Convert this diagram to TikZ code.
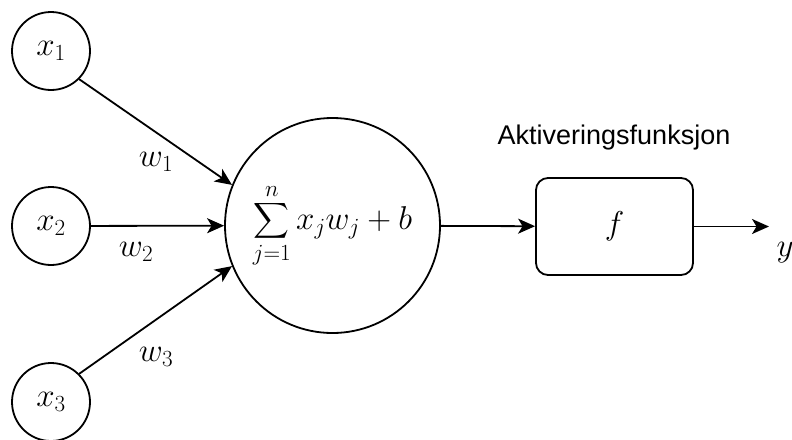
\RequirePackage{fix-cm}
\documentclass[tikz,border=0pt]{standalone}
\usepackage{amsmath}
\usepackage{fontspec}
\newfontfamily\labelfont{Liberation Sans}
\usetikzlibrary{arrows.meta}
\begin{document}
\begin{tikzpicture}[x=1pt,y=-1pt,
  mathfont/.style={font=\fontsize{33}{40}\selectfont},
  conn/.style={line width=1.8pt, -{Stealth[length=17pt,width=15pt,inset=4.5pt]}},
  inp/.style={circle, draw, line width=1.8pt, minimum size=78pt, inner sep=0pt, mathfont},
  sumnode/.style={circle, draw, line width=1.8pt, minimum size=215pt, inner sep=0pt, mathfont},
  fbox/.style={rectangle, rounded corners=12pt, draw, line width=1.8pt, minimum width=157pt, minimum height=97pt, inner sep=0pt, mathfont},
  lbl/.style={inner sep=0pt, mathfont}
]
\useasboundingbox (0,0) rectangle (792,439);
\node[inp] (x1) at (51,51) {$x_1$};
\node[inp] (x2) at (51,226) {$x_2$};
\node[inp] (x3) at (51,402) {$x_3$};
\node[sumnode] (sum) at (332.5,225.5) {$\displaystyle\sum_{j=1}^{n} x_j w_j + b$};
\node[fbox] (f) at (614.5,226.5) {$f$};
\node[inner sep=0pt, font=\labelfont\fontsize{27}{32}\selectfont] (act) at (614,138) {Aktiveringsfunksjon};
\coordinate (yend) at (769,226.5);
\node[lbl] (y) at (785,253) {$y$};
\node[lbl] (w1) at (156,162) {$w_1$};
\node[lbl] (w2) at (136,252) {$w_2$};
\node[lbl] (w3) at (156,357) {$w_3$};
\draw[conn] (x1.-45) -- (sum.158);
\draw[conn] (x2) -- (sum);
\draw[conn] (x3.45) -- (sum.202);
\draw[conn] (sum) -- (f);
\draw[conn] (f.east) -- (yend);
\end{tikzpicture}
\end{document}
